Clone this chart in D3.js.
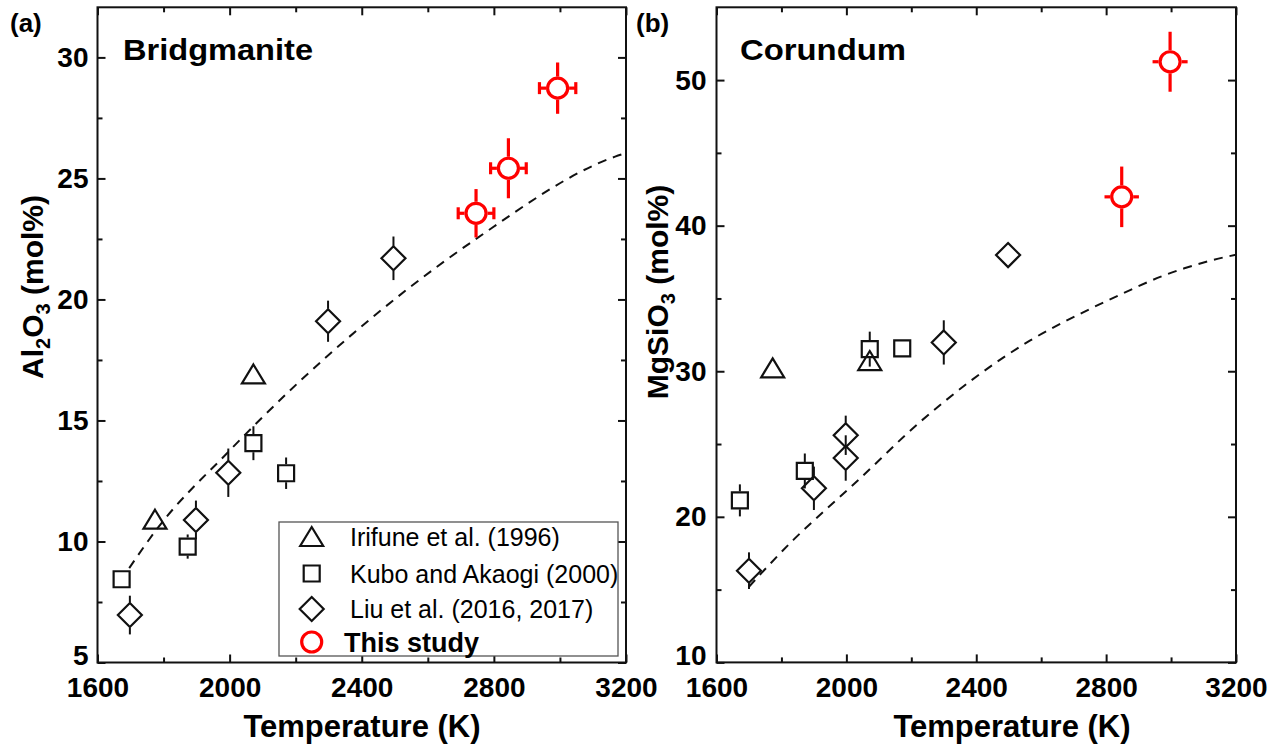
<!DOCTYPE html>
<html><head><meta charset="utf-8">
<script src="https://cdn.jsdelivr.net/npm/d3@7"></script>
<style>
body{margin:0;background:#fff}
svg{display:block}
text{font-family: Arial, "Liberation Sans", sans-serif; fill:#000}
</style>
</head><body>
<svg id="c" width="1268" height="746"></svg>
<script>
// ---------- data ----------
const tempTicks = [1600, 2000, 2400, 2800, 3200];
const tempMinor = [1800, 2200, 2600, 3000];
const bdgTicks = [5, 10, 15, 20, 25, 30];
const bdgMinor = [7.5, 12.5, 17.5, 22.5, 27.5];
const corTicks = [10, 20, 30, 40, 50];
const corMinor = [15, 25, 35, 45];

const legendLabels = ["Irifune et al. (1996)", "Kubo and Akaogi (2000)", "Liu et al. (2016, 2017)", "This study"];

// Bridgmanite (Al2O3 mol%)
const bdgIrifune = [{t:1774, v:10.9}, {t:2072, v:16.9}];
const bdgKubo = [{t:1673, v:8.44, e:0.3}, {t:1873, v:9.79, e:0.5}, {t:2072, v:14.06, e:0.7}, {t:2171, v:12.82, e:0.65}];
const bdgLiu = [{t:1698, v:6.96, e:0.8}, {t:1898, v:10.89, e:0.8}, {t:1996, v:12.84, e:1.0}, {t:2298, v:19.1, e:0.85}, {t:2496, v:21.7, e:0.9}];
const bdgThis = [{t:2746, v:23.56, e:1.0, te:54}, {t:2844, v:25.42, e:1.24, te:54}, {t:2993, v:28.73, e:1.06, te:55}];
const bdgModelT = [1696, 1779, 1996, 2203, 2536, 2746, 3167, 3200];
const bdgModelV = [8.9, 10.5, 13.7, 16.5, 20.4, 22.5, 25.9, 26.05];

// Corundum (MgSiO3 mol%)
const corIrifune = [{t:1773, v:30.2}, {t:2072, v:30.7}];
const corKubo = [{t:1672, v:21.13, e:1.1}, {t:1872, v:23.15, e:1.2}, {t:2072, v:31.52, e:1.2}, {t:2172, v:31.57, e:0}];
const corLiu = [{t:1700, v:16.3, e:1.26}, {t:1900, v:21.96, e:1.49}, {t:1998, v:24.04, e:1.56}, {t:1998, v:25.6, e:1.35}, {t:2300, v:31.98, e:1.52}, {t:2498, v:37.98, e:0}];
const corThis = [{t:2848, v:41.98, e:2.08, te:53}, {t:2997, v:51.26, e:2.06, te:54}];
const corModelT = [1700, 1836, 1929, 2021, 2226, 2565, 2734, 2852, 2980, 3041, 3170, 3200];
const corModelV = [15.2, 18.4, 20.35, 22.2, 26.5, 32.1, 34.1, 35.35, 36.6, 37.07, 37.86, 38.0];

// ---------- drawing ----------
const svg = d3.select('#c');
const BLACK = '#111';
const RED = '#ff0000';

const shapes = {
  tri: {d: 'M0,-10L11.5,9L-11.5,9Z', half: 10},
  sq:  {d: 'M-8,-8h16v16h-16Z', half: 9},
  dia: {d: 'M0,-12L12,0L0,12L-12,0Z', half: 12.5}
};

function drawPanel(p) {
  const x = d3.scaleLinear().domain([1600, 3200]).range([p.L, p.R]);
  const y = d3.scaleLinear().domain(p.yDom).range([p.B, p.T]);
  const g = svg.append('g');

  // model dashed curve
  g.append('path')
    .datum(d3.zip(p.modelT, p.modelV))
    .attr('d', d3.line().x(d => x(d[0])).y(d => y(d[1])).curve(d3.curveMonotoneX))
    .attr('fill', 'none').attr('stroke', BLACK).attr('stroke-width', 2)
    .attr('stroke-dasharray', '9,7');

  // axes
  function axis(gen, tr, labels, pad, size) {
    const a = g.append('g').attr('transform', tr).call(gen.tickSizeInner(-size).tickSizeOuter(0).tickPadding(pad));
    a.select('.domain').remove();
    a.selectAll('.tick line').attr('stroke', BLACK).attr('stroke-width', 2);
    a.selectAll('.tick text').attr('font-size', 28).attr('font-weight', 'bold')
      .attr('font-family', 'Arial, "Liberation Sans", sans-serif').attr('fill', '#000');
    if (!labels) a.selectAll('.tick text').remove();
    return a;
  }
  axis(d3.axisBottom(x).tickValues(tempTicks).tickFormat(d3.format('d')), `translate(0,${p.B})`, true, 14.6, 8);
  axis(d3.axisBottom(x).tickValues(tempMinor), `translate(0,${p.B})`, false, 0, 5);
  axis(d3.axisTop(x).tickValues(tempTicks), `translate(0,${p.T})`, false, 0, 8);
  axis(d3.axisTop(x).tickValues(tempMinor), `translate(0,${p.T})`, false, 0, 5);
  const ya = axis(d3.axisLeft(y).tickValues(p.yTicks).tickFormat(d3.format('d')), `translate(${p.L},0)`, true, p.yPad, 8);
  // lowest y label sits slightly raised above the temperature labels
  ya.selectAll('.tick text').filter(d => d === p.yDom[0]).attr('y', -7);
  axis(d3.axisLeft(y).tickValues(p.yMinor), `translate(${p.L},0)`, false, 0, 5);
  axis(d3.axisRight(y).tickValues(p.yTicks), `translate(${p.R},0)`, false, 0, 8);
  axis(d3.axisRight(y).tickValues(p.yMinor), `translate(${p.R},0)`, false, 0, 5);

  // frame
  g.append('rect').attr('x', p.L).attr('y', p.T).attr('width', p.R - p.L).attr('height', p.B - p.T)
    .attr('fill', 'none').attr('stroke', BLACK).attr('stroke-width', 2);

  // error bars (from marker edge)
  function vbars(data, half, color, w) {
    data.forEach(d => {
      const cx = x(d.t), cy = y(d.v);
      if (!d.e) return;
      const up = y(d.v + d.e), dn = y(d.v - d.e);
      if (cy - up > half) g.append('line').attr('x1', cx).attr('x2', cx).attr('y1', cy - half).attr('y2', up)
        .attr('stroke', color).attr('stroke-width', w);
      if (dn - cy > half) g.append('line').attr('x1', cx).attr('x2', cx).attr('y1', cy + half).attr('y2', dn)
        .attr('stroke', color).attr('stroke-width', w);
    });
  }
  function series(data, shape) {
    vbars(data, shapes[shape].half, BLACK, 2);
    g.selectAll(null).data(data).enter().append('path')
      .attr('d', shapes[shape].d)
      .attr('transform', d => `translate(${x(d.t)},${y(d.v)})`)
      .attr('fill', 'none').attr('stroke', BLACK).attr('stroke-width', 2.2);
  }
  series(p.irifune, 'tri');
  series(p.kubo, 'sq');
  series(p.liu, 'dia');

  // this study
  vbars(p.thisStudy, 11.5, RED, 3.2);
  p.thisStudy.forEach(d => {
    const cx = x(d.t), cy = y(d.v);
    const lft = x(d.t - d.te), rgt = x(d.t + d.te);
    g.append('line').attr('x1', lft).attr('x2', cx - 11.5).attr('y1', cy).attr('y2', cy).attr('stroke', RED).attr('stroke-width', 3.2);
    g.append('line').attr('x1', cx + 11.5).attr('x2', rgt).attr('y1', cy).attr('y2', cy).attr('stroke', RED).attr('stroke-width', 3.2);
    if (p.caps) {
      [lft, rgt].forEach(xx => g.append('line').attr('x1', xx).attr('x2', xx).attr('y1', cy - 6).attr('y2', cy + 6)
        .attr('stroke', RED).attr('stroke-width', 3.2));
    }
  });
  g.selectAll(null).data(p.thisStudy).enter().append('circle')
    .attr('cx', d => x(d.t)).attr('cy', d => y(d.v)).attr('r', 10)
    .attr('fill', 'none').attr('stroke', RED).attr('stroke-width', 3.2);

  // texts
  g.append('text').attr('x', p.tagX).attr('y', 32).attr('font-size', 26).attr('font-weight', 'bold').text(p.tag);
  g.append('text').attr('x', p.nameX).attr('y', 60).attr('font-size', 30).attr('font-weight', 'bold')
    .attr('textLength', p.nameW).attr('lengthAdjust', 'spacingAndGlyphs').text(p.name);
  g.append('text').attr('x', p.xTitleX).attr('y', 737).attr('text-anchor', 'middle')
    .attr('font-size', 31).attr('font-weight', 'bold').text('Temperature (K)');
  const yt = g.append('text').attr('transform', `translate(${p.yTitleX},${p.yTitleY}) rotate(-90)`)
    .attr('text-anchor', 'middle').attr('font-size', 30).attr('font-weight', 'bold');
  p.yTitle.forEach(part => {
    const ts = yt.append('tspan').text(part.s);
    if (part.sub) ts.attr('font-size', 20).attr('dy', 7);
    else if (part.after) ts.attr('dy', -7);
  });
  return {x, y, g};
}

drawPanel({
  L: 97.5, R: 626, T: 7.3, B: 662.5, yDom: [5, 32.07],
  yTicks: bdgTicks, yMinor: bdgMinor, yPad: 9,
  irifune: bdgIrifune, kubo: bdgKubo, liu: bdgLiu, thisStudy: bdgThis,
  modelT: bdgModelT, modelV: bdgModelV, caps: true,
  tag: '(a)', tagX: 10, name: 'Bridgmanite', nameX: 123, nameW: 190,
  xTitleX: 362, yTitleX: 43, yTitleY: 287,
  yTitle: [{s:'Al'}, {s:'2', sub:true}, {s:'O', after:true}, {s:'3', sub:true}, {s:' (mol%)', after:true}]
});

drawPanel({
  L: 716.5, R: 1236, T: 7.3, B: 662.4, yDom: [10, 55],
  yTicks: corTicks, yMinor: corMinor, yPad: 10,
  irifune: corIrifune, kubo: corKubo, liu: corLiu, thisStudy: corThis,
  modelT: corModelT, modelV: corModelV, caps: false,
  tag: '(b)', tagX: 636, name: 'Corundum', nameX: 740, nameW: 166,
  xTitleX: 1012, yTitleX: 668, yTitleY: 292,
  yTitle: [{s:'MgSiO'}, {s:'3', sub:true}, {s:' (mol%)', after:true}]
});

// legend (panel a)
const lg = svg.append('g');
lg.append('rect').attr('x', 279).attr('y', 522).attr('width', 339).attr('height', 134)
  .attr('fill', '#fff').attr('stroke', '#555').attr('stroke-width', 1.3);
const rowsY = [537, 573.5, 609, 642];
const legendShapes = ['tri', 'sq', 'dia', 'circ'];
legendLabels.forEach((lab, i) => {
  const sx = 311.7, sy = rowsY[i];
  if (legendShapes[i] === 'circ') {
    lg.append('circle').attr('cx', sx).attr('cy', sy).attr('r', 10).attr('fill', 'none')
      .attr('stroke', RED).attr('stroke-width', 3.2);
    lg.append('text').attr('x', 344).attr('y', sy + 10).attr('font-size', 27).attr('font-weight', 'bold').text(lab);
  } else {
    lg.append('path').attr('d', shapes[legendShapes[i]].d).attr('transform', `translate(${sx},${sy})`)
      .attr('fill', 'none').attr('stroke', BLACK).attr('stroke-width', 2.2);
    lg.append('text').attr('x', 350).attr('y', sy + 9).attr('font-size', 25).text(lab);
  }
});
</script>
</body></html>
